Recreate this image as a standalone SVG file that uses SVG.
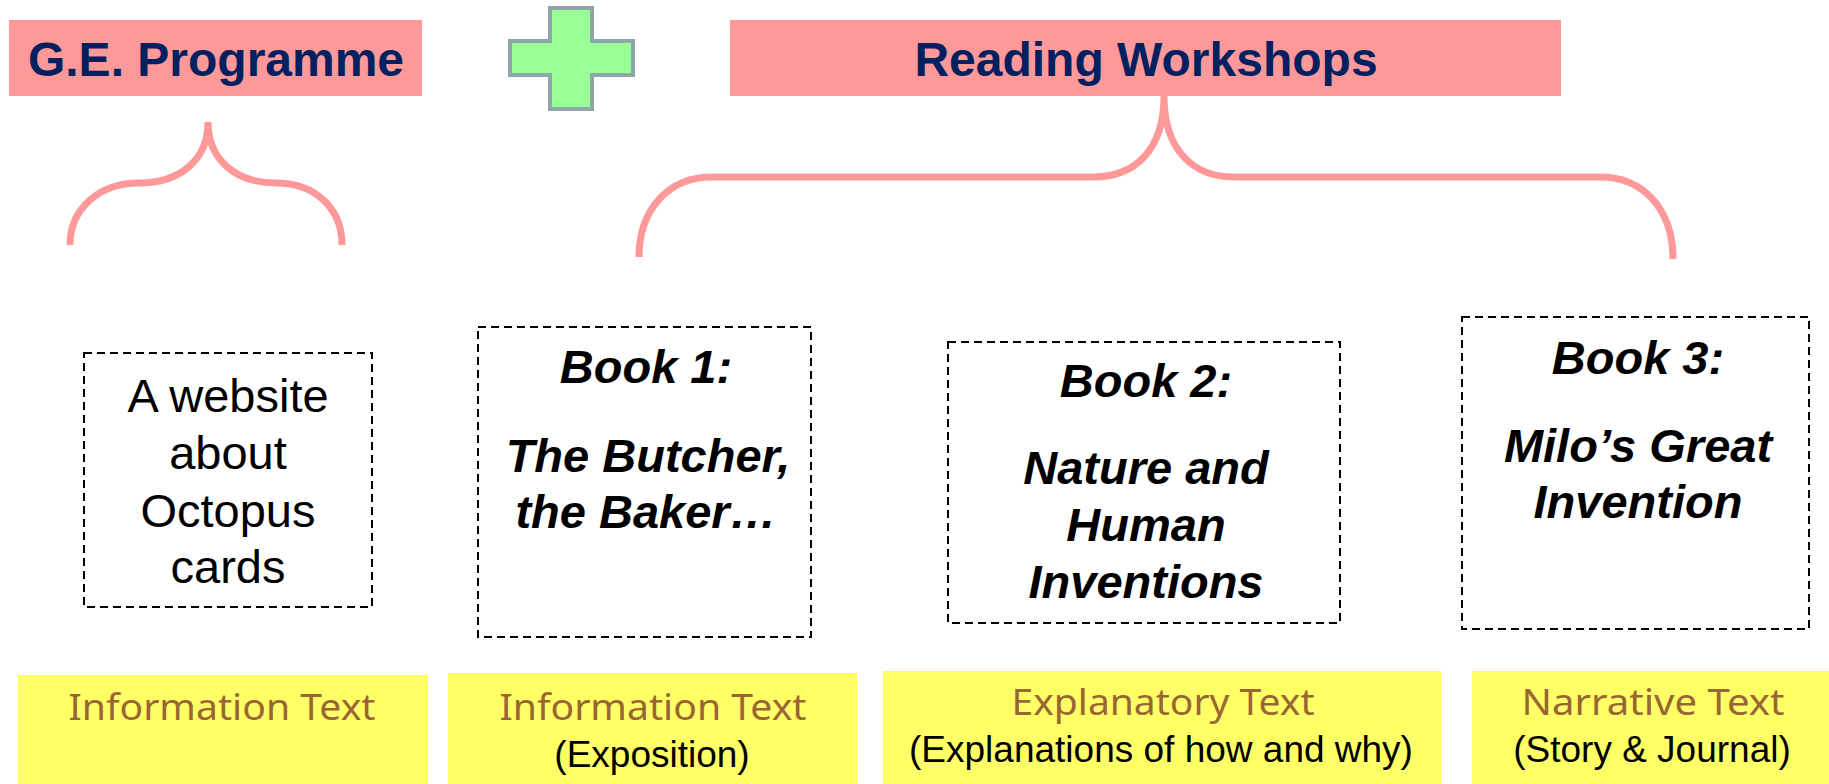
<svg xmlns="http://www.w3.org/2000/svg" width="1829" height="784" viewBox="0 0 1829 784">
<style>
.hdr{fill:#FF9999}
.hdrt{font-family:"Liberation Sans",Arial,sans-serif;font-weight:bold;font-size:48px;fill:#002060;text-anchor:middle}
.dash{fill:#FFFFFF;stroke:#000;stroke-width:2;stroke-dasharray:8 5}
.reg{font-family:"Liberation Sans",Arial,sans-serif;font-size:47px;fill:#000;text-anchor:middle}
.bi{font-family:"Liberation Sans",Arial,sans-serif;font-size:47px;font-weight:bold;font-style:italic;fill:#000;text-anchor:middle}
.yel{fill:#FFFF66}
.comic{font-family:"Noto Sans",sans-serif;font-size:36px;fill:#996633;text-anchor:middle}
.sub{font-family:"Liberation Sans",Arial,sans-serif;font-size:37px;fill:#000;text-anchor:middle}
.brace{fill:none;stroke:#FF9999;stroke-width:7}
</style>
<g id="ge-programme">
<rect class="hdr" x="9" y="20" width="413" height="76"/>
<text class="hdrt" x="216" y="76">G.E. Programme</text>
</g>
<g id="plus">
<polygon points="550,8 592,8 592,41 633,41 633,75 592,75 592,109 550,109 550,75 510,75 510,41 550,41" fill="#99FF99" stroke="#8FA6A6" stroke-width="4"/>
</g>
<g id="reading-workshops">
<rect class="hdr" x="730" y="20" width="831" height="76"/>
<text class="hdrt" x="1146" y="76">Reading Workshops</text>
</g>
<g id="connectors">
<path class="brace" d="M70,245 C70,208 100,183 139,183 C180,183 208,160 208,122 C208,160 236,183 276,183 C315,183 342,208 342,245"/>
<path class="brace" d="M639,257 C639,210 668,177 712,177 L1093,177 C1135,177 1164,150 1164,96 C1164,150 1193,177 1234,177 L1600,177 C1644,177 1673,210 1673,259"/>
</g>
<g id="website">
<rect class="dash" x="84" y="353" width="288" height="254"/>
<text class="reg" x="228" y="412">A website</text>
<text class="reg" x="228" y="469">about</text>
<text class="reg" x="228" y="527">Octopus</text>
<text class="reg" x="228" y="583">cards</text>
</g>
<g id="book1">
<rect class="dash" x="478" y="327" width="333" height="310"/>
<text class="bi" x="646" y="383">Book 1:</text>
<text class="bi" x="648" y="472">The Butcher,</text>
<text class="bi" x="646" y="528">the Baker…</text>
</g>
<g id="book2">
<rect class="dash" x="948" y="342" width="392" height="281"/>
<text class="bi" x="1146" y="397">Book 2:</text>
<text class="bi" x="1146" y="484">Nature and</text>
<text class="bi" x="1146" y="541">Human</text>
<text class="bi" x="1146" y="598">Inventions</text>
</g>
<g id="book3">
<rect class="dash" x="1462" y="317" width="347" height="312"/>
<text class="bi" x="1638" y="374">Book 3:</text>
<text class="bi" x="1638" y="462">Milo’s Great</text>
<text class="bi" x="1638" y="518">Invention</text>
</g>
<g id="label-info1">
<rect class="yel" x="18" y="675" width="410" height="109"/>
<text class="comic" x="222" y="720" textLength="307" lengthAdjust="spacingAndGlyphs">Information Text</text>
</g>
<g id="label-info2">
<rect class="yel" x="448" y="673" width="409" height="111"/>
<text class="comic" x="653" y="720" textLength="307" lengthAdjust="spacingAndGlyphs">Information Text</text>
<text class="sub" x="652" y="767">(Exposition)</text>
</g>
<g id="label-expl">
<rect class="yel" x="883" y="671" width="558" height="113"/>
<text class="comic" x="1163" y="715" textLength="303" lengthAdjust="spacingAndGlyphs">Explanatory Text</text>
<text class="sub" x="1161" y="762">(Explanations of how and why)</text>
</g>
<g id="label-narr">
<rect class="yel" x="1472" y="671" width="357" height="113"/>
<text class="comic" x="1653" y="715" textLength="263" lengthAdjust="spacingAndGlyphs">Narrative Text</text>
<text class="sub" x="1652" y="762">(Story &amp; Journal)</text>
</g>
</svg>
